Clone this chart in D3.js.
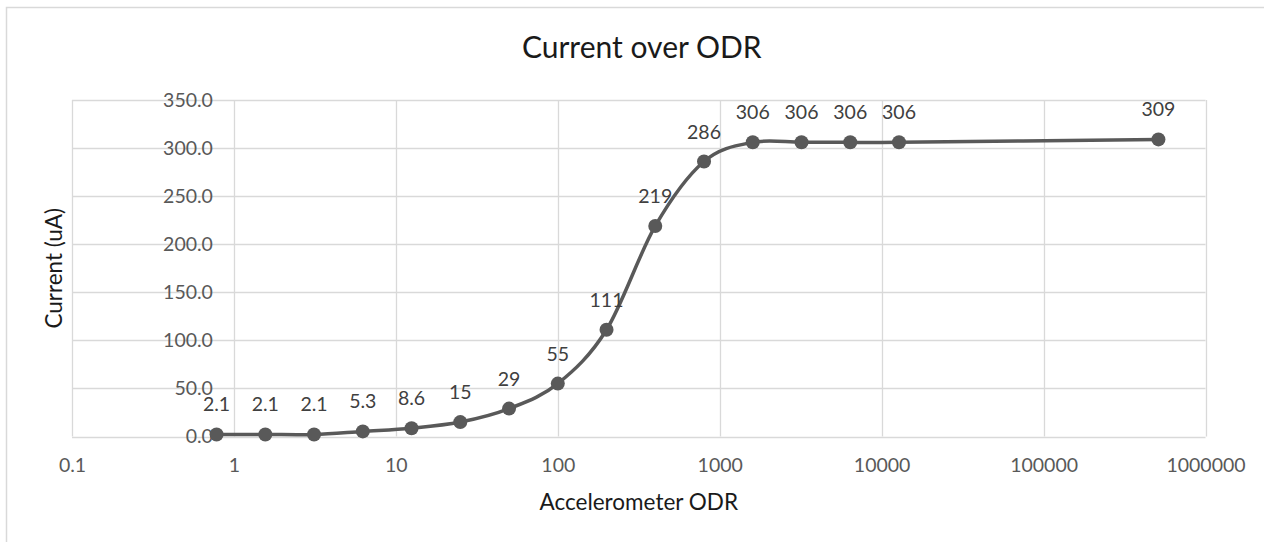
<!DOCTYPE html>
<html>
<head>
<meta charset="utf-8">
<script src="https://cdn.jsdelivr.net/npm/d3@7"></script>
<style>
  html, body { margin: 0; padding: 0; background: #fff; overflow: hidden; }
  text { font-family: Lato, "Open Sans", sans-serif; }
</style>
</head>
<body>
<script>
// data
let odr = [0.78125, 1.5625, 3.125, 6.25, 12.5, 25, 50, 100, 200, 400, 800, 1600, 3200, 6400, 12800, 512000];
let current = [2.1, 2.1, 2.1, 5.3, 8.6, 15, 29, 55, 111, 219, 286, 306, 306, 306, 306, 309];
let pointLabels = ["2.1", "2.1", "2.1", "5.3", "8.6", "15", "29", "55", "111", "219", "286", "306", "306", "306", "306", "309"];
let xTicks = [0.1, 1, 10, 100, 1000, 10000, 100000, 1000000];
let yTicks = [0, 50, 100, 150, 200, 250, 300, 350];

let width = 1264, height = 542;
let plot = {left: 72, right: 1205.5, top: 100, bottom: 436.5};
let svg = null;
let x, y = null;

appendSvg("body");
setupScales();
appendFrame();
appendGrid();
appendAxes();
appendTitles();
appendSeries();

function appendSvg(domElement) {
  svg = d3.select(domElement).append("svg")
    .attr("width", width)
    .attr("height", height);
}

function setupScales() {
  x = d3.scaleLog()
    .domain([0.1, 1000000])
    .range([plot.left, plot.right]);
  y = d3.scaleLinear()
    .domain([0, 350])
    .range([plot.bottom, plot.top]);
}

function appendFrame() {
  // chart area border runs off the right and bottom of the window
  svg.append("rect")
    .attr("x", 6.5).attr("y", 7.5)
    .attr("width", 1400).attr("height", 700)
    .attr("fill", "#fff")
    .attr("stroke", "#d9d9d9")
    .attr("stroke-width", 1.5);
}

function appendGrid() {
  svg.append("g")
    .selectAll("line")
    .data(yTicks)
    .join("line")
    .attr("x1", plot.left).attr("x2", plot.right)
    .attr("y1", d => Math.round(y(d)) + 0.5)
    .attr("y2", d => Math.round(y(d)) + 0.5)
    .attr("stroke", "#d9d9d9")
    .attr("stroke-width", 1.3);

  svg.append("g")
    .selectAll("line")
    .data(xTicks)
    .join("line")
    .attr("x1", d => Math.round(x(d)) + 0.5)
    .attr("x2", d => Math.round(x(d)) + 0.5)
    .attr("y1", plot.top).attr("y2", plot.bottom)
    .attr("stroke", "#d9d9d9")
    .attr("stroke-width", 1.3);
}

function appendAxes() {
  // y axis labels sit next to x = 1, where the value axis crosses
  let yAxis = d3.axisLeft(y)
    .tickValues(yTicks)
    .tickFormat(d3.format(".1f"))
    .tickSize(0)
    .tickPadding(21);
  let gy = svg.append("g")
    .attr("transform", `translate(${x(1)},0)`)
    .call(yAxis);
  gy.select(".domain").remove();
  gy.selectAll("text")
    .attr("fill", "#595959")
    .style("font-size", "19.5px")
    .style("font-family", "Lato, sans-serif");

  let xAxis = d3.axisBottom(x)
    .tickValues(xTicks)
    .tickFormat(d => d3.format("~f")(d))
    .tickSize(0)
    .tickPadding(22);
  let gx = svg.append("g")
    .attr("transform", `translate(0,${plot.bottom})`)
    .call(xAxis);
  gx.select(".domain").remove();
  gx.selectAll("text")
    .attr("fill", "#595959")
    .style("font-size", "19.5px")
    .style("font-family", "Lato, sans-serif");
}

function appendTitles() {
  svg.append("text")
    .attr("x", (plot.left + plot.right) / 2 + 3)
    .attr("y", 58)
    .attr("text-anchor", "middle")
    .attr("fill", "#1a1a1a")
    .style("font-size", "30px")
    .text("Current over ODR");

  svg.append("text")
    .attr("x", (plot.left + plot.right) / 2)
    .attr("y", 510)
    .attr("text-anchor", "middle")
    .attr("fill", "#1a1a1a")
    .style("font-size", "22.5px")
    .text("Accelerometer ODR");

  svg.append("text")
    .attr("transform", `translate(62,${(plot.top + plot.bottom) / 2}) rotate(-90)`)
    .attr("text-anchor", "middle")
    .attr("fill", "#1a1a1a")
    .style("font-size", "22.5px")
    .text("Current (uA)");
}

function appendSeries() {
  let pts = odr.map((d, i) => [x(d), y(current[i])]);

  let line = d3.line().curve(d3.curveCatmullRom.alpha(0));
  svg.append("path")
    .attr("d", line(pts))
    .attr("fill", "none")
    .attr("stroke", "#595959")
    .attr("stroke-width", 3.5)
    .attr("stroke-linecap", "round");

  svg.append("g")
    .selectAll("circle")
    .data(pts)
    .join("circle")
    .attr("cx", d => d[0])
    .attr("cy", d => d[1])
    .attr("r", 7)
    .attr("fill", "#595959");

  svg.append("g")
    .selectAll("text")
    .data(pts)
    .join("text")
    .attr("x", d => d[0])
    .attr("y", d => d[1] - 23)
    .attr("text-anchor", "middle")
    .attr("fill", "#404040")
    .style("font-size", "19.5px")
    .text((d, i) => pointLabels[i]);
}
</script>
</body>
</html>
